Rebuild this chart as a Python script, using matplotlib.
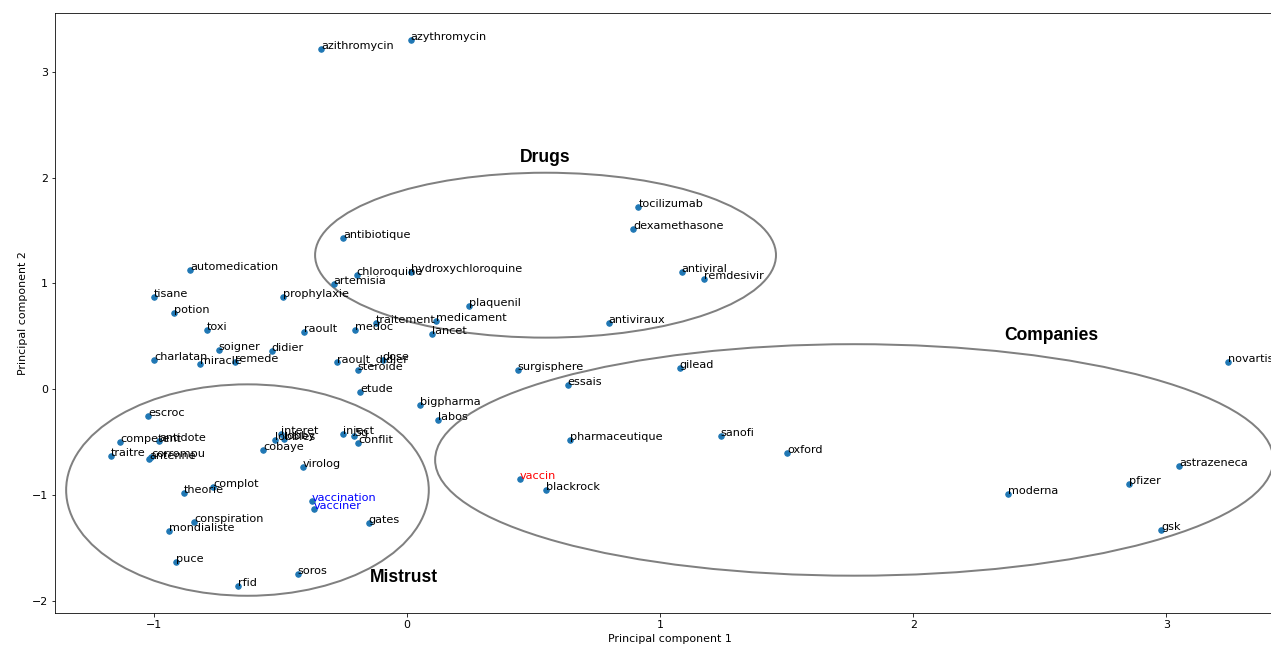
import matplotlib
matplotlib.use("Agg")
import matplotlib.pyplot as plt
from matplotlib.patches import Ellipse

words = ["azithromycin", "azythromycin", "tocilizumab", "dexamethasone", "antibiotique",
         "automedication", "chloroquine", "hydroxychloroquine", "antiviral", "remdesivir",
         "artemisia", "tisane", "prophylaxie", "plaquenil", "potion", "medicament",
         "antiviraux", "traitement", "toxi", "raoult", "medoc", "lancet", "soigner",
         "didier", "charlatan", "miracle", "remede", "raoult_didier", "dose", "steroide",
         "surgisphere", "gilead", "novartis", "essais", "etude", "bigpharma", "labos",
         "escroc", "competent", "antidote", "traitre", "corrompu", "antenne", "interet",
         "lobbies", "lobby", "cobaye", "inject", "5g", "conflit", "virolog", "complot",
         "theorie", "vaccination", "vacciner", "conspiration", "mondialiste", "gates",
         "puce", "soros", "rfid", "pharmaceutique", "sanofi", "oxford", "astrazeneca",
         "vaccin", "blackrock", "pfizer", "moderna", "gsk"]

pc1 = [-0.339, 0.016, 0.915, 0.895, -0.252,
       -0.856, -0.197, 0.016, 1.085, 1.175,
       -0.288, -0.998, -0.489, 0.245, -0.919, 0.114,
       0.797, -0.122, -0.789, -0.406, -0.205, 0.099, -0.742,
       -0.533, -0.998, -0.817, -0.679, -0.276, -0.095, -0.193,
       0.438, 1.077, 3.243, 0.635, -0.185, 0.051, 0.122,
       -1.022, -1.132, -0.978, -1.168, -1.010, -1.018, -0.497,
       -0.521, -0.485, -0.568, -0.252, -0.209, -0.193, -0.410, -0.765,
       -0.880, -0.375, -0.367, -0.840, -0.939, -0.150,
       -0.911, -0.430, -0.667, 0.643, 1.239, 1.503, 3.049,
       0.446, 0.548, 2.852, 2.375, 2.978]

pc2 = [3.22, 3.30, 1.72, 1.51, 1.43,
       1.13, 1.08, 1.11, 1.11, 1.04,
       0.99, 0.87, 0.87, 0.79, 0.72, 0.64,
       0.63, 0.63, 0.56, 0.54, 0.56, 0.52, 0.37,
       0.36, 0.28, 0.24, 0.26, 0.26, 0.28, 0.18,
       0.18, 0.20, 0.26, 0.04, -0.03, -0.15, -0.29,
       -0.255, -0.50, -0.49, -0.63, -0.64, -0.66, -0.42,
       -0.48, -0.47, -0.58, -0.42, -0.44, -0.51, -0.74, -0.93,
       -0.98, -1.06, -1.13, -1.26, -1.34, -1.27,
       -1.64, -1.75, -1.86, -0.48, -0.44, -0.60, -0.73,
       -0.85, -0.95, -0.90, -0.99, -1.33]

label_colors = {"vaccin": "red", "vaccination": "blue", "vacciner": "blue"}

groups = ["Drugs", "Companies", "Mistrust"]
group_ellipse_center = [(0.548, 1.267), (1.767, -0.67), (-0.629, -0.955)]
group_ellipse_size = [(1.82, 1.56), (3.31, 2.19), (1.432, 2.00)]
group_label_pos = [(0.548, 2.19), (2.544, 0.51), (-0.012, -1.78)]

fig = plt.figure(figsize=(1271 / 72, 646 / 72), dpi=72)
ax = fig.add_axes([55 / 1271, 33 / 646, (1284 - 55) / 1271, 600 / 646])

ax.scatter(pc1, pc2, s=30, color="#1f77b4", zorder=3)
for w, x, y in zip(words, pc1, pc2):
    ax.annotate(w, (x, y), fontsize=11.2, color=label_colors.get(w, "black"))

for (cx, cy), (ew, eh) in zip(group_ellipse_center, group_ellipse_size):
    ax.add_patch(Ellipse((cx, cy), ew, eh, fill=False, edgecolor="#808080", linewidth=2))

for g, (tx, ty) in zip(groups, group_label_pos):
    ax.text(tx, ty, g, fontsize=17.5, fontweight="bold", family="Liberation Sans",
            ha="center", va="center")

ax.set_xlim(-1.389, 3.464)
ax.set_ylim(-2.118, 3.558)
ax.set_xticks([-1, 0, 1, 2, 3])
ax.set_yticks([-2, -1, 0, 1, 2, 3])
ax.tick_params(labelsize=11)
ax.set_xlabel("Principal component 1", fontsize=11)
ax.set_ylabel("Principal component 2", fontsize=11)

fig.savefig("out.png", dpi=72)
